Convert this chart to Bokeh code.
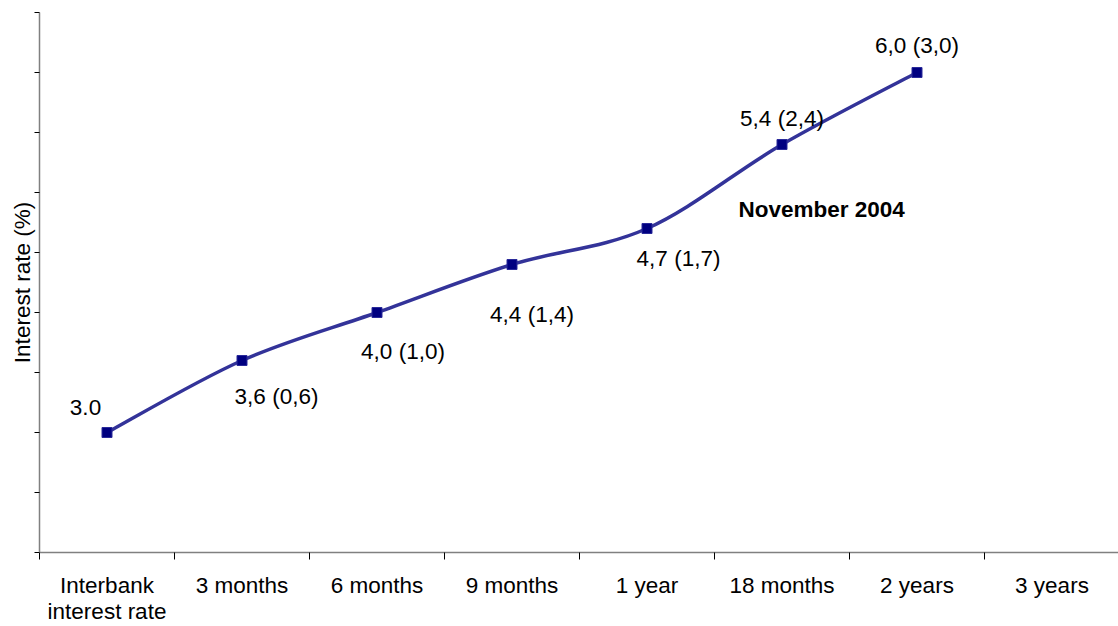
from bokeh.plotting import figure
from bokeh.models import Range1d, FixedTicker, ColumnDataSource, CustomJSTickFormatter
from bokeh.core.properties import value
from bokeh.embed import file_html
from bokeh.resources import INLINE

# Yield curve, November 2004
categories = ["Interbank\ninterest rate", "3 months", "6 months", "9 months",
              "1 year", "18 months", "2 years", "3 years"]
rates = [3.0, 3.6, 4.0, 4.4, 4.7, 5.4, 6.0]
base_rate = rates[0]
y_ticks = [2.0, 2.5, 3.0, 3.5, 4.0, 4.5, 5.0, 5.5, 6.0, 6.5]
title_text = "November 2004"
title_pos = (5.178, 4.86)

FONT = "Liberation Sans"
FS = "22.5px"

# label placement relative to each point (pixels, y downwards)
label_dx = [-21.5, 34.5, 26, 20, 31.5, 0, 0]
label_dy = [-25, 36, 39, 49.5, 30, -26, -27]

xs = [i + 0.5 for i in range(len(rates))]


def fmt(v):
    return f"{v:.1f}".replace(".", ",")


labels = [f"{rates[0]:.1f}"] + [f"{fmt(v)} ({fmt(v - base_rate)})" for v in rates[1:]]

p = figure(width=1118, height=626, output_backend="svg", toolbar_location=None,
           x_range=Range1d(0, 1079 / 135), y_range=Range1d(2.0, 6.5),
           min_border_left=39, min_border_right=0, min_border_top=12,
           min_border_bottom=73)
p.outline_line_color = None
p.xgrid.grid_line_color = None
p.ygrid.grid_line_color = None
p.background_fill_color = "white"
p.border_fill_color = "white"

# x axis: tick marks between categories, labels centred in each slot
xa = p.xaxis[0]
xa.ticker = FixedTicker(ticks=[i + 0.5 for i in range(len(categories))],
                        minor_ticks=list(range(len(categories) + 1)))
xa.major_label_overrides = {i + 0.5: c for i, c in enumerate(categories)}
xa.major_tick_line_color = None
xa.major_tick_in = 0
xa.major_tick_out = 7
xa.minor_tick_in = 0
xa.minor_tick_out = 7
xa.minor_tick_line_color = "black"
xa.minor_tick_line_width = 1
xa.axis_line_color = "#808080"
xa.axis_line_width = 1.5
xa.major_label_standoff = 13
xa.major_label_text_font = FONT
xa.major_label_text_font_size = FS
xa.major_label_text_line_height = 1.05
xa.major_label_text_color = "black"

ya = p.yaxis[0]
ya.ticker = FixedTicker(ticks=y_ticks, minor_ticks=[])
ya.formatter = CustomJSTickFormatter(code="return ''")
ya.major_label_text_font_size = FS
ya.major_label_standoff = 0
ya.major_tick_in = 0
ya.major_tick_out = 5
ya.major_tick_line_color = "black"
ya.axis_line_color = "#808080"
ya.axis_line_width = 1.5
ya.axis_label = "Interest rate (%)"
ya.axis_label_text_font = FONT
ya.axis_label_text_font_size = FS
ya.axis_label_text_font_style = "normal"
ya.axis_label_text_color = "black"
ya.axis_label_standoff = 0

# smoothed line through the points (cubic Bezier segments, Catmull-Rom style)
n = len(rates)
seg = dict(x0=[], y0=[], x1=[], y1=[], cx0=[], cy0=[], cx1=[], cy1=[])
for i in range(n - 1):
    xp, yp = xs[max(i - 1, 0)], rates[max(i - 1, 0)]
    xa0, ya0 = xs[i], rates[i]
    xb, yb = xs[i + 1], rates[i + 1]
    xn, yn = xs[min(i + 2, n - 1)], rates[min(i + 2, n - 1)]
    seg["x0"].append(xa0)
    seg["y0"].append(ya0)
    seg["x1"].append(xb)
    seg["y1"].append(yb)
    seg["cx0"].append(xa0 + (xb - xp) / 6)
    seg["cy0"].append(ya0 + (yb - yp) / 6)
    seg["cx1"].append(xb - (xn - xa0) / 6)
    seg["cy1"].append(yb - (yn - ya0) / 6)
p.bezier(source=ColumnDataSource(seg), x0="x0", y0="y0", x1="x1", y1="y1",
         cx0="cx0", cy0="cy0", cx1="cx1", cy1="cy1",
         line_color="#333399", line_width=3.5)

pts = ColumnDataSource(dict(x=xs, y=rates, label=labels, dx=label_dx, dy=label_dy))
p.scatter("x", "y", source=pts, marker="square", size=10,
          fill_color="#000080", line_color="#2a2a9a", line_width=1)

p.text("x", "y", text="label", source=pts, x_offset="dx", y_offset="dy",
       text_font=value(FONT), text_font_size=FS, text_color="black",
       text_align="center", text_baseline="alphabetic")

p.text(x=[title_pos[0]], y=[title_pos[1]], text=[title_text],
       text_font=value(FONT), text_font_size=FS, text_font_style="bold",
       text_color="black", text_align="left", text_baseline="alphabetic")

open("out.html", "w").write(file_html(p, INLINE))
